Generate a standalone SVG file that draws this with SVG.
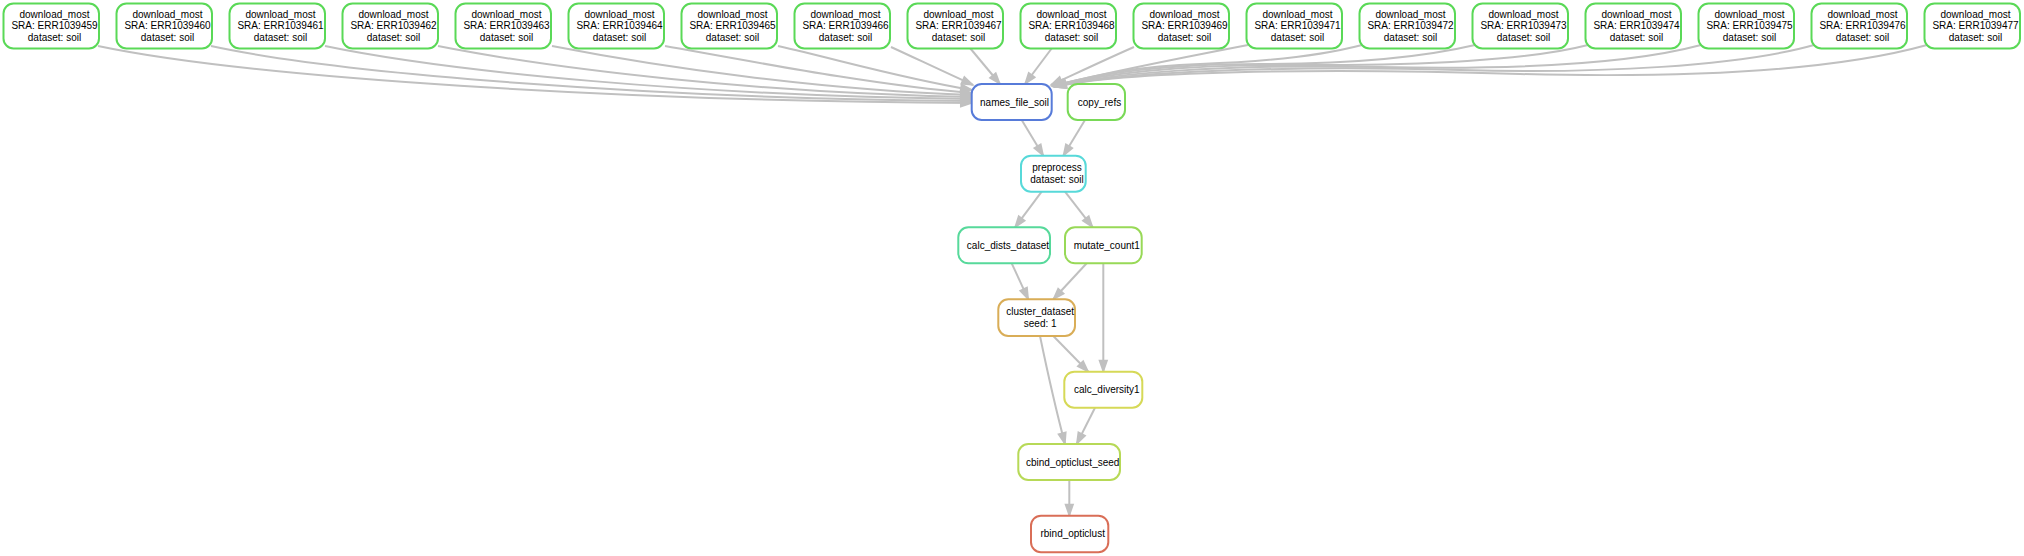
<svg xmlns="http://www.w3.org/2000/svg" width="2024" height="556" viewBox="0 0 2024 556">
<style>
.n rect{fill:#fff;stroke-width:2}
.n text{font-family:"Liberation Sans",Arial,Helvetica,sans-serif;font-size:10px;fill:#000;text-anchor:middle}
.dl rect{stroke:#5ad957}
.e path{fill:none;stroke:#c0c0c0;stroke-width:2;marker-end:url(#arr)}
</style>
<defs>
<marker id="arr" markerUnits="userSpaceOnUse" markerWidth="16" markerHeight="12" viewBox="-2 -6 16 12" refX="11" refY="0" orient="auto" overflow="visible">
<path d="M0,-3.5 L10,0 L0,3.5 Z" fill="#c0c0c0" stroke="#c0c0c0" stroke-width="2"/>
</marker>
</defs>
<rect x="0" y="0" width="2024" height="556" fill="#fff"/>
<g id="edges" class="e">
<path d="M98,46 C250,78 620,101 972,103"/>
<path d="M211,46 C340,74 660,99 972,101"/>
<path d="M325,46 C450,72 700,96 972,99"/>
<path d="M438,46 C560,70 760,93 972,97"/>
<path d="M552,46 C660,67 820,90 972,95"/>
<path d="M665,46 C760,63 880,86 972,93"/>
<path d="M778,46 C840,60 900,78 972,90"/>
<path d="M891,47 C915,58 940,70 973,85"/>
<path d="M970,48 L1000,84"/>
<path d="M1052,48 L1025,84"/>
<path d="M1134,47 C1100,62 1075,74 1051,85"/>
<path d="M1248,45 C1180,58 1110,72 1052,86"/>
<path d="M1362,45 C1320,56 1260,62 1200,64 C1140,66 1100,74 1053,86"/>
<path d="M1475,45 C1420,58 1340,64 1260,64 C1160,64 1105,73 1053,86"/>
<path d="M1588,45 C1530,60 1420,66 1300,65 C1180,64 1108,73 1054,86"/>
<path d="M1701,45 C1630,64 1520,70 1380,67 C1220,64 1110,73 1054,87"/>
<path d="M1814,45 C1740,66 1600,74 1460,70 C1280,65 1115,72 1055,87"/>
<path d="M1927,45 C1830,72 1680,78 1520,74 C1320,68 1120,71 1055,87"/>
<path d="M1021.7,120 L1043.3,155.7"/>
<path d="M1085,120 L1063.3,155.7"/>
<path d="M1041.7,191.7 L1015,227.3"/>
<path d="M1065,191.7 L1092.7,227.3"/>
<path d="M1011.7,263.3 L1028.3,299.3"/>
<path d="M1086.7,263.3 L1053.3,299.3"/>
<path d="M1103.3,263.3 L1103.3,371.7"/>
<path d="M1053.3,336 L1088.3,371.7"/>
<path d="M1040,336 C1046,365 1056,410 1065,444"/>
<path d="M1095,407.7 L1076.7,444"/>
<path d="M1069.3,480 L1069.3,515.7"/>
</g>
<g id="n459" class="n dl"><rect x="3.5" y="3.5" width="95.5" height="45" rx="10"/><text x="54.5" y="17.6">download_most</text><text x="54.5" y="29.3">SRA: ERR1039459</text><text x="54.5" y="41">dataset: soil</text></g>
<g id="n460" class="n dl"><rect x="116.5" y="3.5" width="95.5" height="45" rx="10"/><text x="167.5" y="17.6">download_most</text><text x="167.5" y="29.3">SRA: ERR1039460</text><text x="167.5" y="41">dataset: soil</text></g>
<g id="n461" class="n dl"><rect x="229.5" y="3.5" width="95.5" height="45" rx="10"/><text x="280.5" y="17.6">download_most</text><text x="280.5" y="29.3">SRA: ERR1039461</text><text x="280.5" y="41">dataset: soil</text></g>
<g id="n462" class="n dl"><rect x="342.5" y="3.5" width="95.5" height="45" rx="10"/><text x="393.5" y="17.6">download_most</text><text x="393.5" y="29.3">SRA: ERR1039462</text><text x="393.5" y="41">dataset: soil</text></g>
<g id="n463" class="n dl"><rect x="455.5" y="3.5" width="95.5" height="45" rx="10"/><text x="506.5" y="17.6">download_most</text><text x="506.5" y="29.3">SRA: ERR1039463</text><text x="506.5" y="41">dataset: soil</text></g>
<g id="n464" class="n dl"><rect x="568.5" y="3.5" width="95.5" height="45" rx="10"/><text x="619.5" y="17.6">download_most</text><text x="619.5" y="29.3">SRA: ERR1039464</text><text x="619.5" y="41">dataset: soil</text></g>
<g id="n465" class="n dl"><rect x="681.5" y="3.5" width="95.5" height="45" rx="10"/><text x="732.5" y="17.6">download_most</text><text x="732.5" y="29.3">SRA: ERR1039465</text><text x="732.5" y="41">dataset: soil</text></g>
<g id="n466" class="n dl"><rect x="794.5" y="3.5" width="95.5" height="45" rx="10"/><text x="845.5" y="17.6">download_most</text><text x="845.5" y="29.3">SRA: ERR1039466</text><text x="845.5" y="41">dataset: soil</text></g>
<g id="n467" class="n dl"><rect x="907.5" y="3.5" width="95.5" height="45" rx="10"/><text x="958.5" y="17.6">download_most</text><text x="958.5" y="29.3">SRA: ERR1039467</text><text x="958.5" y="41">dataset: soil</text></g>
<g id="n468" class="n dl"><rect x="1020.5" y="3.5" width="95.5" height="45" rx="10"/><text x="1071.5" y="17.6">download_most</text><text x="1071.5" y="29.3">SRA: ERR1039468</text><text x="1071.5" y="41">dataset: soil</text></g>
<g id="n469" class="n dl"><rect x="1133.5" y="3.5" width="95.5" height="45" rx="10"/><text x="1184.5" y="17.6">download_most</text><text x="1184.5" y="29.3">SRA: ERR1039469</text><text x="1184.5" y="41">dataset: soil</text></g>
<g id="n471" class="n dl"><rect x="1246.5" y="3.5" width="95.5" height="45" rx="10"/><text x="1297.5" y="17.6">download_most</text><text x="1297.5" y="29.3">SRA: ERR1039471</text><text x="1297.5" y="41">dataset: soil</text></g>
<g id="n472" class="n dl"><rect x="1359.5" y="3.5" width="95.5" height="45" rx="10"/><text x="1410.5" y="17.6">download_most</text><text x="1410.5" y="29.3">SRA: ERR1039472</text><text x="1410.5" y="41">dataset: soil</text></g>
<g id="n473" class="n dl"><rect x="1472.5" y="3.5" width="95.5" height="45" rx="10"/><text x="1523.5" y="17.6">download_most</text><text x="1523.5" y="29.3">SRA: ERR1039473</text><text x="1523.5" y="41">dataset: soil</text></g>
<g id="n474" class="n dl"><rect x="1585.5" y="3.5" width="95.5" height="45" rx="10"/><text x="1636.5" y="17.6">download_most</text><text x="1636.5" y="29.3">SRA: ERR1039474</text><text x="1636.5" y="41">dataset: soil</text></g>
<g id="n475" class="n dl"><rect x="1698.5" y="3.5" width="95.5" height="45" rx="10"/><text x="1749.5" y="17.6">download_most</text><text x="1749.5" y="29.3">SRA: ERR1039475</text><text x="1749.5" y="41">dataset: soil</text></g>
<g id="n476" class="n dl"><rect x="1811.5" y="3.5" width="95.5" height="45" rx="10"/><text x="1862.5" y="17.6">download_most</text><text x="1862.5" y="29.3">SRA: ERR1039476</text><text x="1862.5" y="41">dataset: soil</text></g>
<g id="n477" class="n dl"><rect x="1924.5" y="3.5" width="95.5" height="45" rx="10"/><text x="1975.5" y="17.6">download_most</text><text x="1975.5" y="29.3">SRA: ERR1039477</text><text x="1975.5" y="41">dataset: soil</text></g>
<g id="names_file_soil" class="n"><rect x="971.7" y="84" width="80" height="36" rx="10" stroke="#577bd9"/><text x="1014.5" y="105.5">names_file_soil</text></g>
<g id="copy_refs" class="n"><rect x="1067.7" y="84" width="57.3" height="36" rx="10" stroke="#79d957"/><text x="1099.5" y="105.5">copy_refs</text></g>
<g id="preprocess" class="n"><rect x="1021" y="155.7" width="64.7" height="36" rx="10" stroke="#57d9d9"/><text x="1057" y="170.8">preprocess</text><text x="1057" y="182.5">dataset: soil</text></g>
<g id="calc_dists_dataset" class="n"><rect x="958.3" y="227.3" width="91.7" height="36" rx="10" stroke="#57d99b"/><text x="1008" y="248.8">calc_dists_dataset</text></g>
<g id="mutate_count1" class="n"><rect x="1065" y="227.3" width="76.7" height="36" rx="10" stroke="#98d957"/><text x="1106.8" y="248.8">mutate_count1</text></g>
<g id="cluster_dataset" class="n"><rect x="998.3" y="299.3" width="76.7" height="36.7" rx="10" stroke="#d9ad57"/><text x="1040.2" y="314.8">cluster_dataset</text><text x="1040.2" y="326.5">seed: 1</text></g>
<g id="calc_diversity1" class="n"><rect x="1064.3" y="371.7" width="78" height="36" rx="10" stroke="#d6d957"/><text x="1106.8" y="393.2">calc_diversity1</text></g>
<g id="cbind_opticlust_seed" class="n"><rect x="1018.3" y="444" width="101.7" height="36" rx="10" stroke="#b7d957"/><text x="1072.7" y="465.5">cbind_opticlust_seed</text></g>
<g id="rbind_opticlust" class="n"><rect x="1031" y="515.7" width="77.3" height="36.5" rx="10" stroke="#d96e57"/><text x="1072.7" y="537.4">rbind_opticlust</text></g>
</svg>
